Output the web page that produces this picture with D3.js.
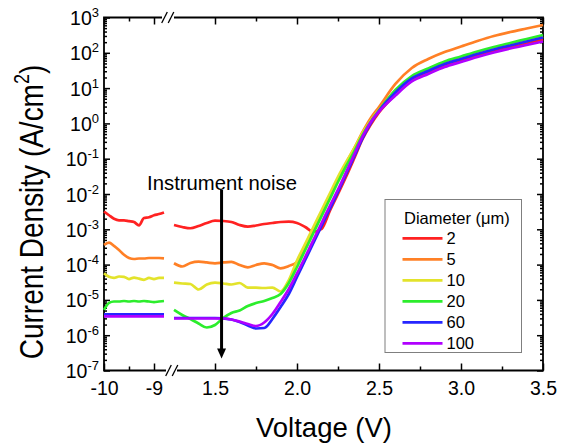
<!DOCTYPE html>
<html>
<head>
<meta charset="utf-8">
<script src="https://cdn.jsdelivr.net/npm/d3@7"></script>
<style>
  body { margin: 0; background: #fff; }
  svg { font-family: Arial, "Liberation Sans", sans-serif; }
</style>
</head>
<body>
<svg id="chart" width="561" height="447"></svg>
<script>
// diameters (um) and their colours
var diameters = ["2", "5", "10", "20", "60", "100"];
var colors = ["#ff2222", "#ff8026", "#e3e32b", "#2ced2c", "#2626ff", "#b000ff"];

// reverse bias part (left of the axis break)
var reverseV = [-10, -9.9, -9.8, -9.7, -9.6, -9.5, -9.4, -9.3, -9.2, -9.1, -9.0, -8.9, -8.8];
var reverseJ2 = [3.2e-3, 2.5e-3, 2.0e-3, 1.8e-3, 1.8e-3, 1.7e-3, 1.6e-3, 1.3e-3, 2.1e-3, 2.2e-3, 2.5e-3, 2.7e-3, 3.0e-3];
var reverseJ5 = [3.6e-4, 4.2e-4, 3.4e-4, 2.6e-4, 1.9e-4, 1.54e-4, 1.44e-4, 1.49e-4, 1.49e-4, 1.54e-4, 1.54e-4, 1.54e-4, 1.51e-4];
var reverseJ10 = [5.7e-5, 4.5e-5, 4.2e-5, 4.6e-5, 4.5e-5, 3.9e-5, 4.3e-5, 4.0e-5, 3.7e-5, 4.2e-5, 3.9e-5, 4.2e-5, 4.2e-5];
var reverseJ20 = [5.2e-6, 8.2e-6, 9.0e-6, 9.0e-6, 9.3e-6, 9.0e-6, 9.3e-6, 9.0e-6, 9.3e-6, 9.0e-6, 8.7e-6, 9.0e-6, 9.3e-6];
var reverseJ60 = [3.9e-6, 3.9e-6, 3.9e-6, 3.9e-6, 3.9e-6, 3.9e-6, 3.9e-6, 3.9e-6, 3.9e-6, 3.9e-6, 3.9e-6, 3.9e-6, 3.9e-6];
var reverseJ100 = [3.4e-6, 3.4e-6, 3.4e-6, 3.4e-6, 3.4e-6, 3.4e-6, 3.4e-6, 3.4e-6, 3.4e-6, 3.4e-6, 3.4e-6, 3.4e-6, 3.4e-6];

// forward bias part (right of the axis break)
var forwardV = [1.25, 1.30, 1.35, 1.40, 1.45, 1.50, 1.55, 1.60, 1.65, 1.70, 1.75, 1.80, 1.85, 1.90, 1.95,
  2.00, 2.05, 2.10, 2.15, 2.20, 2.25, 2.30, 2.35, 2.40, 2.45, 2.50, 2.6, 2.7, 2.8, 2.9, 3.0, 3.1, 3.2, 3.3, 3.4, 3.5];
var forwardJ2 = [1.32e-3, 1.16e-3, 1.07e-3, 1.24e-3, 1.51e-3, 1.75e-3, 1.72e-3, 1.61e-3, 1.32e-3, 1.19e-3, 1.28e-3, 1.41e-3,
  1.51e-3, 1.61e-3, 1.64e-3, 1.51e-3, 1.16e-3, 8.4e-4, 1.02e-3, 3.30e-3, 1.0e-2, 3.13e-2, 1.05e-1, 3.61e-1, 0.93, 2.04,
  6.59, 16.4, 26.8, 42.3, 58.6, 81.1, 109, 141, 183, 238];
var forwardJ5 = [1.09e-4, 8.83e-5, 1.11e-4, 1.21e-4, 1.15e-4, 1.09e-4, 1.15e-4, 1.19e-4, 9.75e-5, 8.39e-5, 9.75e-5, 1.09e-4,
  9.75e-5, 7.85e-5, 9.12e-5, 1.19e-4, 3.37e-4, 9.55e-4, 2.90e-3, 8.77e-3, 2.66e-2, 7.55e-2, 2.01e-1, 5.70e-1, 1.42, 2.92,
  13.1, 37.1, 66.7, 105, 151, 216, 299, 388, 488, 613];
var forwardJ10 = [3.07e-5, 2.92e-5, 2.82e-5, 1.97e-5, 2.73e-5, 3.07e-5, 2.92e-5, 2.73e-5, 3.01e-5, 2.24e-5, 2.22e-5, 2.17e-5,
  2.24e-5, 1.73e-5, 3.66e-5, 1.31e-4, 3.88e-4, 1.16e-3, 3.45e-3, 1.03e-2, 3.07e-2, 8.07e-2, 2.01e-1, 5.35e-1, 1.21, 2.40,
  8.01, 20.0, 32.6, 51.4, 71.3, 98.7, 132, 172, 223, 290];
var forwardJ20 = [5.18e-6, 3.73e-6, 2.88e-6, 2.14e-6, 1.65e-6, 1.95e-6, 3.07e-6, 4.26e-6, 5.01e-6, 6.71e-6, 8.17e-6, 9.31e-6,
  1.13e-5, 1.47e-5, 3.01e-5, 8.55e-5, 2.59e-4, 7.85e-4, 2.38e-3, 7.21e-3, 2.19e-2, 6.21e-2, 1.65e-1, 4.69e-1, 1.13, 2.32,
  8.83, 22.0, 35.9, 56.8, 78.5, 109, 146, 190, 246, 319];
var forwardJ60 = [3.07e-6, 3.07e-6, 3.07e-6, 3.07e-6, 3.07e-6, 3.07e-6, 2.97e-6, 2.79e-6, 2.37e-6, 1.88e-6, 1.55e-6, 1.60e-6,
  2.88e-6, 6.3e-6, 1.47e-5, 4.46e-5, 1.35e-4, 4.09e-4, 1.24e-3, 3.76e-3, 1.14e-2, 3.69e-2, 1.19e-1, 3.85e-1, 1.03, 2.24,
  7.50, 18.7, 30.5, 48.2, 66.7, 92.5, 124, 161, 209, 271];
var forwardJ100 = [2.97e-6, 2.97e-6, 2.97e-6, 2.97e-6, 2.97e-6, 2.97e-6, 2.97e-6, 2.79e-6, 2.44e-6, 2.07e-6, 1.82e-6, 2.29e-6,
  3.99e-6, 8.73e-6, 2.04e-5, 5.60e-5, 1.64e-4, 4.98e-4, 1.51e-3, 4.57e-3, 1.34e-2, 4.20e-2, 1.36e-1, 4.26e-1, 1.10, 2.17,
  6.17, 15.4, 25.1, 39.6, 54.8, 76.0, 102, 132, 166, 209];

var reverseJ = [reverseJ2, reverseJ5, reverseJ10, reverseJ20, reverseJ60, reverseJ100];
var forwardJ = [forwardJ2, forwardJ5, forwardJ10, forwardJ20, forwardJ60, forwardJ100];

// tick values
var leftMajor = [-10, -9], leftMinor = [-9.5];
var rightMajor = [1.5, 2.0, 2.5, 3.0, 3.5], rightMinor = [1.75, 2.25, 2.75, 3.25];
var decades = d3.range(-7, 4).map(function(e) { return Math.pow(10, e); });

var svg = d3.select("#chart"),
  margin = { top: 17.5, right: 18, bottom: 76.5, left: 104 },
  width = +svg.attr("width") - margin.left - margin.right,
  height = +svg.attr("height") - margin.top - margin.bottom;

var g = svg.append("g").attr("transform", "translate(" + margin.left + "," + margin.top + ")");

// broken x axis: two linear scales
var xLeft = d3.scaleLinear().domain([-10, -9]).range([0, 50]);
var xRight = d3.scaleLinear().domain([1.5, 3.5]).range([111, width]);
var y = d3.scaleLog().domain([1e-7, 1e3]).range([height, 0]);

var minors = [];
decades.slice(0, -1).forEach(function(d) {
  for (var k = 2; k < 10; k++) minors.push(d * k);
});

function noDomain(sel) { sel.select(".domain").remove(); }

function styleTicks(sel) {
  sel.selectAll(".tick line").attr("stroke", "#000").attr("stroke-width", 1.5);
}

// x axes (bottom + top)
[[xLeft, leftMajor, leftMinor, String], [xRight, rightMajor, rightMinor, d3.format(".1f")]].forEach(function(a) {
  g.append("g")
    .attr("transform", "translate(0," + height + ")")
    .call(d3.axisBottom(a[0]).tickValues(a[1]).tickSize(-7).tickPadding(11).tickFormat(a[3]))
    .call(noDomain).call(styleTicks)
    .selectAll("text").attr("font-size", 19.5).attr("font-family", "Arial, 'Liberation Sans', sans-serif").attr("fill", "#000");
  g.append("g")
    .attr("transform", "translate(0," + height + ")")
    .call(d3.axisBottom(a[0]).tickValues(a[2]).tickSize(-4).tickFormat(""))
    .call(noDomain).call(styleTicks);
  g.append("g")
    .call(d3.axisTop(a[0]).tickValues(a[1]).tickSize(-7).tickFormat(""))
    .call(noDomain).call(styleTicks);
  g.append("g")
    .call(d3.axisTop(a[0]).tickValues(a[2]).tickSize(-4).tickFormat(""))
    .call(noDomain).call(styleTicks);
});

// y axes (left with labels, right without)
var yLeft = g.append("g")
  .call(d3.axisLeft(y).tickValues(decades).tickSize(-6).tickPadding(5).tickFormat(function() { return ""; }))
  .call(noDomain).call(styleTicks);
yLeft.selectAll(".tick text").each(function(d) {
  var t = d3.select(this)
    .attr("font-size", 19.5)
    .attr("font-family", "Arial, 'Liberation Sans', sans-serif")
    .attr("fill", "#000")
    .attr("dy", "0.36em");
  t.append("tspan").text("10");
  t.append("tspan").attr("font-size", 13).attr("dy", -8).text(String(Math.round(Math.log10(d))));
});
g.append("g")
  .call(d3.axisLeft(y).tickValues(minors).tickSize(-3).tickFormat(""))
  .call(noDomain).call(styleTicks);
g.append("g")
  .attr("transform", "translate(" + width + ",0)")
  .call(d3.axisRight(y).tickValues(decades).tickSize(-6).tickFormat(""))
  .call(noDomain).call(styleTicks);
g.append("g")
  .attr("transform", "translate(" + width + ",0)")
  .call(d3.axisRight(y).tickValues(minors).tickSize(-3).tickFormat(""))
  .call(noDomain).call(styleTicks);

// frame with the axis break
var topBreak = 64, bottomBreak = 68;
var frame = g.append("g").attr("stroke", "#000").attr("stroke-width", 1.8).attr("fill", "none");
frame.append("path").attr("d",
  "M" + (topBreak - 6) + ",0H0V" + height + "H" + (bottomBreak - 6) +
  "M" + (bottomBreak + 5) + "," + height + "H" + width + "V0H" + (topBreak + 6));
[[topBreak, 0], [bottomBreak, height]].forEach(function(b) {
  [-3.5, 3].forEach(function(o) {
    frame.append("line")
      .attr("stroke-width", 1.3)
      .attr("x1", b[0] + o - 2.8).attr("y1", b[1] + 5.5)
      .attr("x2", b[0] + o + 2.8).attr("y2", b[1] - 5.5);
  });
});

// curves
var lineLeft = d3.line()
  .x(function(d) { return xLeft(d[0]); })
  .y(function(d) { return y(d[1]); })
  .curve(d3.curveMonotoneX);
var lineRight = d3.line()
  .x(function(d) { return xRight(d[0]); })
  .y(function(d) { return y(d[1]); })
  .curve(d3.curveMonotoneX);

diameters.forEach(function(dia, i) {
  g.append("path")
    .datum(d3.zip(reverseV, reverseJ[i]))
    .attr("fill", "none").attr("stroke", colors[i]).attr("stroke-width", 2.7)
    .attr("d", lineLeft);
  g.append("path")
    .datum(d3.zip(forwardV, forwardJ[i]))
    .attr("fill", "none").attr("stroke", colors[i]).attr("stroke-width", 2.7)
    .attr("stroke-linejoin", "round")
    .attr("d", lineRight);
});

// annotation arrow
var ax = xRight(1.54);
g.append("line")
  .attr("x1", ax).attr("x2", ax)
  .attr("y1", y(1.3e-2)).attr("y2", y(2.2e-7) - 8)
  .attr("stroke", "#000").attr("stroke-width", 3);
g.append("path")
  .attr("d", "M" + (ax - 4.5) + "," + (y(2.2e-7) - 10) + "L" + (ax + 4.5) + "," + (y(2.2e-7) - 10) + "L" + ax + "," + y(2.2e-7) + "Z")
  .attr("fill", "#000");
g.append("text")
  .attr("x", ax + 0.5).attr("y", 172)
  .attr("text-anchor", "middle").attr("font-size", 20.3)
  .text("Instrument noise");

// legend
var legend = svg.append("g").attr("transform", "translate(385,199.5)");
legend.append("rect")
  .attr("width", 136.5).attr("height", 153)
  .attr("fill", "#fff").attr("stroke", "#7f7f7f").attr("stroke-width", 1);
legend.append("text")
  .attr("x", 19).attr("y", 24.5)
  .attr("font-size", 16.5)
  .text("Diameter (\u03bcm)");
var item = legend.selectAll(".item")
  .data(diameters)
  .enter().append("g")
  .attr("transform", function(d, i) { return "translate(0," + (38.8 + i * 21) + ")"; });
item.append("line")
  .attr("x1", 17.5).attr("x2", 57.5)
  .attr("stroke", function(d, i) { return colors[i]; })
  .attr("stroke-width", 2.7);
item.append("text")
  .attr("x", 61.5).attr("dy", "0.36em")
  .attr("font-size", 16.5)
  .text(function(d) { return d; });

// axis titles
svg.append("text")
  .attr("x", 324).attr("y", 437)
  .attr("text-anchor", "middle").attr("font-size", 27.5)
  .text("Voltage (V)");
var yt = svg.append("text")
  .attr("transform", "translate(43,212) scale(1.2,1) rotate(-90)")
  .attr("text-anchor", "middle").attr("font-size", 28);
yt.append("tspan").text("Current Density (A/cm");
yt.append("tspan").attr("font-size", 18).attr("dy", -12).text("2");
yt.append("tspan").attr("dy", 12).text(")");
</script>
</body>
</html>
